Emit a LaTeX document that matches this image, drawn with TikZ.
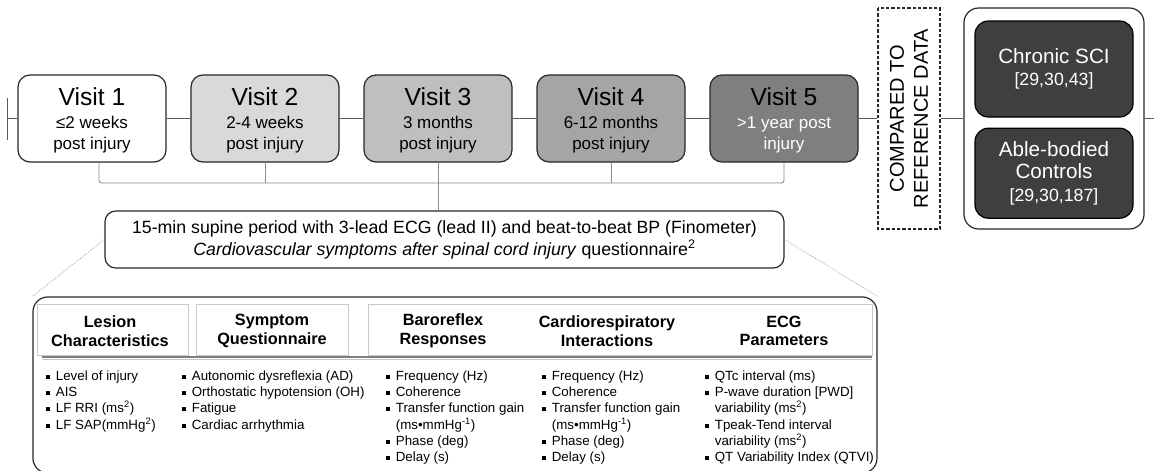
\documentclass[tikz,border=0pt]{standalone}
\usepackage{fontspec}
\setmainfont{Liberation Sans}
\usetikzlibrary{positioning}
\definecolor{vgrayA}{HTML}{D9D9D9}
\definecolor{vgrayB}{HTML}{BFBFBF}
\definecolor{vgrayC}{HTML}{A5A5A5}
\definecolor{vgrayD}{HTML}{7F7F7F}
\definecolor{refdark}{HTML}{3F3F3F}
\definecolor{linegray}{HTML}{595959}
\definecolor{brkgray}{HTML}{8C8C8C}
\definecolor{cellgray}{HTML}{C8C8C8}
\newcommand{\vtitle}[1]{{\fontsize{18.5}{22}\selectfont #1}}
\newcommand{\citefont}[1]{{\fontsize{13.3}{16}\selectfont #1}}
\newcommand{\bul}{\makebox[0.72em][l]{\rule[0.11em]{0.3em}{0.3em}}}
\newcommand{\ind}{\hspace*{0.72em}}
\tikzset{
  visit/.style={rectangle, rounded corners=9pt, draw=black!85, line width=0.9pt, minimum width=111pt,
    minimum height=65.25pt, inner sep=0pt, align=center, text depth=0pt, font=\fontsize{12.75}{15.75}\selectfont},
  cmpbox/.style={rectangle, draw=black!85, line width=0.8pt, dash pattern=on 2.5pt off 1.5pt, minimum width=165.75pt,
    minimum height=46.5pt, inner sep=0pt, align=center, font=\fontsize{15}{18}\selectfont},
  grpbox/.style={rectangle, rounded corners=11pt, draw=black!85, line width=0.9pt, fill=white,
    minimum width=135pt, minimum height=165.75pt},
  refbox/.style={rectangle, rounded corners=10pt, draw=black, line width=0.9pt, fill=refdark, text=white,
    minimum width=118.5pt, inner sep=0pt, align=center, font=\fontsize{15.5}{17}\selectfont},
  midbox/.style={rectangle, rounded corners=8pt, draw=black!85, line width=0.9pt, minimum width=509.25pt,
    minimum height=42.75pt, inner sep=0pt, align=center, font=\fontsize{13.3}{16.5}\selectfont},
  lowbox/.style={rectangle, rounded corners=11pt, draw=black!85, line width=0.9pt, minimum width=633pt,
    minimum height=132pt},
  cell/.style={rectangle, draw=cellgray, line width=0.5pt, minimum height=38.25pt},
  head/.style={align=center, inner sep=0pt, font=\bfseries\fontsize{12.2}{14}\selectfont},
  items/.style={anchor=north west, align=left, inner sep=0pt, font=\fontsize{10}{12.15}\selectfont},
  link/.style={draw=linegray, line width=0.7pt},
  brk/.style={draw=brkgray, line width=0.7pt},
  zoomln/.style={draw=gray, line width=0.5pt, densely dotted},
}

\begin{document}
\begin{tikzpicture}[x=0.75pt, y=-0.75pt]
  \useasboundingbox (0,0) rectangle (1154,471);

  % timeline of visits
  \node[visit, fill=white] (v1) at (92,118.5) {\vtitle{Visit 1}\\[1.5pt]≤2 weeks\\post injury};
  \node[visit, fill=vgrayA] (v2) at (265,118.5) {\vtitle{Visit 2}\\[1.5pt]2-4 weeks\\post injury};
  \node[visit, fill=vgrayB] (v3) at (438,118.5) {\vtitle{Visit 3}\\[1.5pt]3 months\\post injury};
  \node[visit, fill=vgrayC] (v4) at (611,118.5) {\vtitle{Visit 4}\\[1.5pt]6-12 months\\post injury};
  \node[visit, fill=vgrayD] (v5) at (784,118.5) {\vtitle{Visit 5}\\[1.5pt]{\color{white}>1 year post}\\{\color{white}injury}};

  % reference data
  \node[cmpbox, rotate=90] (cmp) at (909,118.5) {COMPARED TO\\REFERENCE DATA};
  \node[grpbox] (grp) at (1054,118.5) {};
  \node[refbox, minimum height=72pt] (chr) at (1054,69) {Chronic SCI\\\citefont{[29,30,43]}};
  \node[refbox, minimum height=67.5pt, below=7.5pt of chr] (abc) {Able-bodied\\Controls\\\citefont{[29,30,187]}};

  \coordinate (ltop) at (7,98);
  \coordinate (lbot) at (7,140);
  \coordinate (lmid) at (7,118.5);
  \coordinate (rend) at (1154,118.5);
  \draw[link] (ltop) -- (lbot);
  \draw[link] (lmid) -- (v1);
  \draw[link] (v1) -- (v2);
  \draw[link] (v2) -- (v3);
  \draw[link] (v3) -- (v4);
  \draw[link] (v4) -- (v5);
  \draw[link] (v5) -- (cmp);
  \draw[link] (cmp) -- (grp);
  \draw[link] (grp) -- (rend);

  % protocol box
  \node[midbox] (mid) at (444.5,239.5) {15-min supine period with 3-lead ECG (lead II) and beat-to-beat BP (Finometer)\\
    \textit{Cardiovascular symptoms after spinal cord injury} questionnaire\textsuperscript{2}};

  \coordinate (bl) at (99,183);
  \coordinate (br) at (784,183);
  \draw[brk, rounded corners=2pt] (v1.south -| bl) -- (bl) -- (br) -- (v5.south);
  \draw[brk] (v2.south) -- (v2.south |- bl);
  \draw[brk] (v4.south) -- (v4.south |- bl);
  \draw[brk] (v3.south) -- (v3.south |- mid.north);

  % outcome table
  \node[lowbox] (low) at (455,385) {};
  \draw[zoomln] (mid.west) -- (low.north west);
  \draw[zoomln] (mid.east) -- (low.north east);

  \node[cell, minimum width=113.25pt] (c1) at (112.5,329.5) {};
  \node[cell, minimum width=114pt] (c2) at (272,329.5) {};
  \node[cell, minimum width=378pt] (c3) at (620,329.5) {};
  \draw[draw=gray, line width=1.3pt] ([shift={(5,2)}]c1.south west) -- ([shift={(0,2)}]c3.south east);
  \draw[draw=gray!45, line width=0.6pt] ([shift={(5,4.5)}]c1.south west) -- ([shift={(0,4.5)}]c3.south east);

  \node[head] (h1) at (110,331) {Lesion\\Characteristics};
  \node[head] (h2) at (272,331) {Symptom\\Questionnaire};
  \node[head] (h3) at (443,331) {Baroreflex\\Responses};
  \node[head] (h4) at (607,331) {Cardiorespiratory\\Interactions};
  \node[head] (h5) at (784,331) {ECG\\Parameters};

  \node[items] (l1) at (46,370.5) {\bul Level of injury\\\bul AIS\\\bul LF RRI (ms\textsuperscript{2})\\\bul LF SAP(mmHg\textsuperscript{2})};
  \node[items] (l2) at (182,370.5) {\bul Autonomic dysreflexia (AD)\\\bul Orthostatic hypotension (OH)\\\bul Fatigue\\\bul Cardiac arrhythmia};
  \node[items] (l3) at (386,370.5) {\bul Frequency (Hz)\\\bul Coherence\\\bul Transfer function gain\\\ind(ms•mmHg\textsuperscript{-1})\\\bul Phase (deg)\\\bul Delay (s)};
  \node[items] (l4) at (542,370.5) {\bul Frequency (Hz)\\\bul Coherence\\\bul Transfer function gain\\\ind(ms•mmHg\textsuperscript{-1})\\\bul Phase (deg)\\\bul Delay (s)};
  \node[items] (l5) at (705,370.5) {\bul QTc interval (ms)\\\bul P-wave duration [PWD]\\\ind variability (ms\textsuperscript{2})\\\bul Tpeak-Tend interval\\\ind variability (ms\textsuperscript{2})\\\bul QT Variability Index (QTVI)};
\end{tikzpicture}
\end{document}
